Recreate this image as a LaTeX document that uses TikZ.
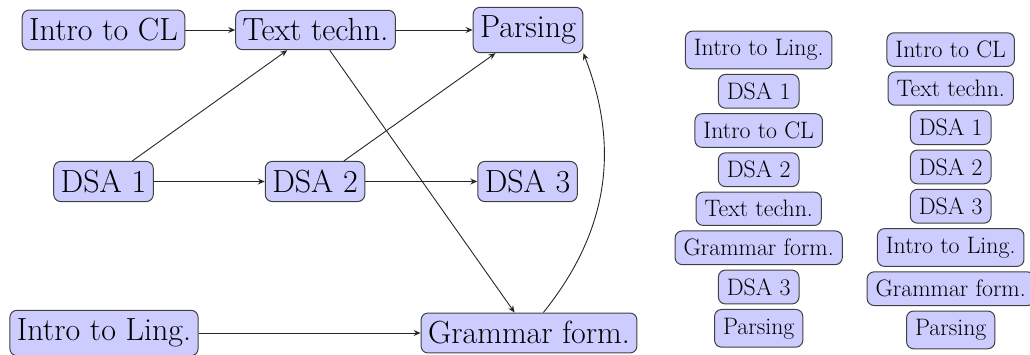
\documentclass[tikz,border=0pt]{standalone}
\usepackage{fontspec}
\usetikzlibrary{arrows.meta,positioning}
\tikzset{
  course/.style={draw=black!75, fill=blue!20, rounded corners=7pt, line width=1pt},
  big/.style={course, inner xsep=7pt, inner ysep=8.5pt, font=\fontsize{32}{38}\selectfont},
  small/.style={course, inner xsep=8.5pt, inner ysep=8.3pt, font=\fontsize{23.8}{28}\selectfont},
  dep/.style={-{Stealth[length=7pt,width=6pt,inset=2.5pt]}, line width=0.9pt, draw=black!85},
}
\begin{document}
\begin{tikzpicture}[x=1pt,y=1pt]
\useasboundingbox (0,0) rectangle (1030,354);
% left graph
\node[big] (cl) at (103.5,324) {Intro to CL};
\node[big] (tt) at (315.5,324) {Text techn.};
\node[big] (pa) at (528,324) {Parsing};
\node[big] (d1) at (103.5,172.5) {DSA 1};
\node[big] (d2) at (315,172.5) {DSA 2};
\node[big] (d3) at (527.5,172.5) {DSA 3};
\node[big] (il) at (104,21) {Intro to Ling.};
\node[big] (gf) at (529,21) {Grammar form.};
\draw[dep] (cl) -- (tt);
\draw[dep] (tt) -- (pa);
\draw[dep] (d1) -- (d2);
\draw[dep] (d2) -- (d3);
\draw[dep] (il) -- (gf);
\draw[dep] (d1) -- (tt);
\draw[dep] (d2) -- (pa);
\draw[dep] (tt) -- (gf);
\draw[dep] (gf.55) to[bend right=30] (pa.south east);
% first ordering
\node[small, anchor=north] (a1) at (758.7,323.3) {Intro to Ling.};
\node[small, below=4.5pt of a1] (a2) {DSA 1};
\node[small, below=4.5pt of a2] (a3) {Intro to CL};
\node[small, below=4.5pt of a3] (a4) {DSA 2};
\node[small, below=4.5pt of a4] (a5) {Text techn.};
\node[small, below=4.5pt of a5] (a6) {Grammar form.};
\node[small, below=4.5pt of a6] (a7) {DSA 3};
\node[small, below=4.5pt of a7] (a8) {Parsing};
% second ordering
\node[small, anchor=north] (b1) at (950.7,321.7) {Intro to CL};
\node[small, below=4.5pt of b1] (b2) {Text techn.};
\node[small, below=4.5pt of b2] (b3) {DSA 1};
\node[small, below=4.5pt of b3] (b4) {DSA 2};
\node[small, below=4.5pt of b4] (b5) {DSA 3};
\node[small, below=4.5pt of b5] (b6) {Intro to Ling.};
\node[small, below=4.5pt of b6] (b7) {Grammar form.};
\node[small, below=4.5pt of b7] (b8) {Parsing};
\end{tikzpicture}
\end{document}
